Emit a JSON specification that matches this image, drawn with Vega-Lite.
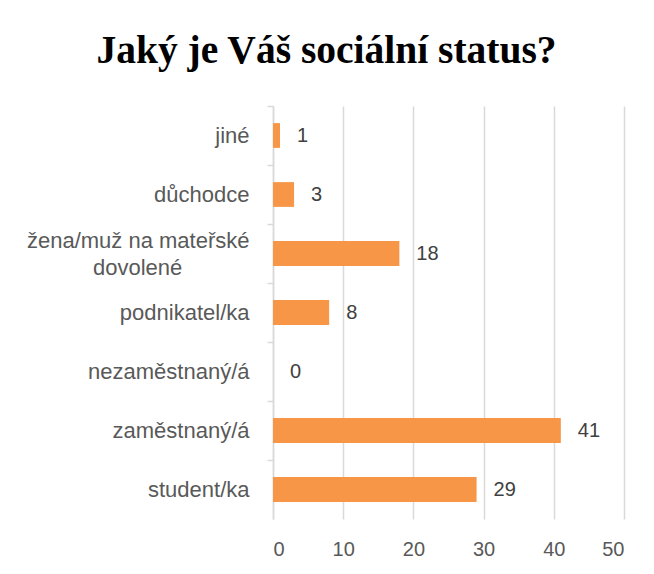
{
  "$schema": "https://vega.github.io/schema/vega-lite/v6.json",
  "autosize": {"type": "none"},
  "padding": {"left": 273, "top": 106, "right": 30, "bottom": 55},
  "width": 351,
  "height": 413,
  "background": "white",
  "title": {
    "text": "Jaký je Váš sociální status?",
    "font": "Liberation Serif",
    "fontSize": 39.5,
    "fontWeight": "bold",
    "color": "#000000",
    "anchor": "middle",
    "baseline": "alphabetic",
    "offset": 3,
    "dx": -122
  },
  "data": {
    "values": [
      {"status": "jiné", "count": 1},
      {"status": "důchodce", "count": 3},
      {"status": "žena/muž na mateřské dovolené", "count": 18},
      {"status": "podnikatel/ka", "count": 8},
      {"status": "nezaměstnaný/á", "count": 0},
      {"status": "zaměstnaný/á", "count": 41},
      {"status": "student/ka", "count": 29}
    ]
  },
  "encoding": {
    "y": {
      "field": "status",
      "type": "nominal",
      "sort": null,
      "scale": {"paddingInner": 0, "paddingOuter": 0},
      "axis": {
        "title": null,
        "bandPosition": 0,
        "domainColor": "#d9d9d9",
        "domainWidth": 1.5,
        "tickColor": "#d9d9d9",
        "tickWidth": 1.5,
        "tickSize": 6,
        "labelPadding": 18,
        "labelFont": "Liberation Sans",
        "labelFontSize": 22,
        "labelColor": "#595959",
        "labelLineHeight": 27,
        "labelLimit": 300,
        "labelOffset": {"condition": {"test": "datum.value == 'žena/muž na mateřské dovolené'", "value": -13}, "value": 0},
        "labelExpr": "datum.value == 'žena/muž na mateřské dovolené' ? ['žena/muž na mateřské', 'dovolené\u00a0\u00a0\u00a0\u00a0\u00a0\u00a0\u00a0\u00a0\u00a0\u00a0\u00a0\u200b'] : datum.value"
      }
    },
    "x": {
      "field": "count",
      "type": "quantitative",
      "scale": {"domain": [0, 50]},
      "axis": {
        "title": null,
        "values": [0, 10, 20, 30, 40, 50],
        "domain": false,
        "ticks": false,
        "grid": true,
        "gridColor": "#d9d9d9",
        "gridWidth": 1.5,
        "labelPadding": 20,
        "labelFont": "Liberation Sans",
        "labelFontSize": 20,
        "labelColor": "#595959"
      }
    }
  },
  "layer": [
    {
      "mark": {"type": "bar", "color": "#F79646", "height": {"band": 0.42}}
    },
    {
      "mark": {"type": "text", "align": "left", "baseline": "middle", "dx": 17, "font": "Liberation Sans", "fontSize": 20, "color": "#404040"},
      "encoding": {"text": {"field": "count", "type": "quantitative"}}
    }
  ],
  "config": {"view": {"stroke": null}}
}
